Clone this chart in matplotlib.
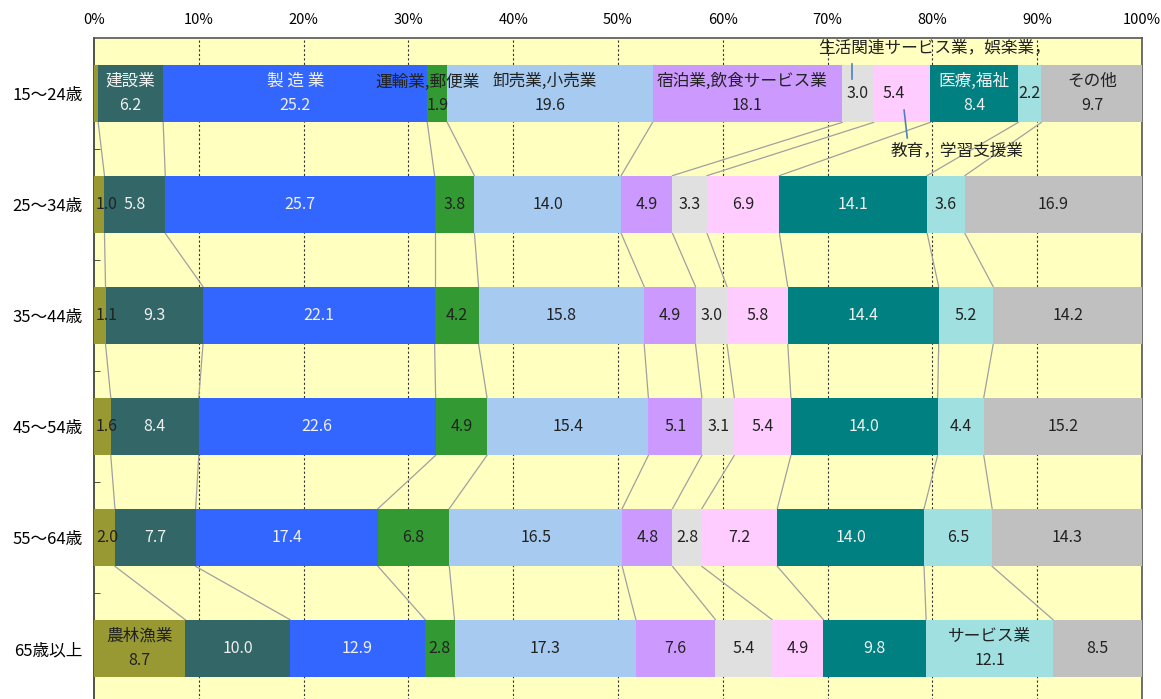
import matplotlib.pyplot as plt
import numpy as np

plt.rcParams['font.family'] = ['Noto Sans CJK JP', 'DejaVu Sans']

ages = ['15～24歳', '25～34歳', '35～44歳', '45～54歳', '55～64歳', '65歳以上']
industries = ['農林漁業', '建設業', '製造業', '運輸業,郵便業', '卸売業,小売業',
              '宿泊業,飲食サービス業', '生活関連サービス業，娯楽業，', '教育，学習支援業',
              '医療,福祉', 'サービス業', 'その他']
colors = ['#999933', '#336666', '#3366FF', '#339933', '#A6CAF0', '#CC99FF',
          '#E0E0E0', '#FFCCFF', '#008080', '#A0E0E0', '#C0C0C0']
light_text = [False, True, True, False, False, False, False, False, True, False, False]

# share (%) by age group, columns follow `industries`
r15 = [0.4, 6.2, 25.2, 1.9, 19.6, 18.1, 3.0, 5.4, 8.4, 2.2, 9.7]
r25 = [1.0, 5.8, 25.7, 3.8, 14.0, 4.9, 3.3, 6.9, 14.1, 3.6, 16.9]
r35 = [1.1, 9.3, 22.1, 4.2, 15.8, 4.9, 3.0, 5.8, 14.4, 5.2, 14.2]
r45 = [1.6, 8.4, 22.6, 4.9, 15.4, 5.1, 3.1, 5.4, 14.0, 4.4, 15.2]
r55 = [2.0, 7.7, 17.4, 6.8, 16.5, 4.8, 2.8, 7.2, 14.0, 6.5, 14.3]
r65 = [8.7, 10.0, 12.9, 2.8, 17.3, 7.6, 5.4, 4.9, 9.8, 12.1, 8.5]
data = np.array([r15, r25, r35, r45, r55, r65])

fig = plt.figure(figsize=(11.61, 6.99), dpi=100)
ax = fig.add_axes([94 / 1161, -5 / 699, (1142 - 94) / 1161, 666 / 699])
ax.set_facecolor('#FFFFC0')

h = 0.52
y = np.arange(len(ages))
left = np.zeros(len(ages))
edges = []
for j in range(len(industries)):
    ax.barh(y, data[:, j], left=left, height=h, color=colors[j], zorder=3)
    left = left + data[:, j]
    edges.append(left.copy())

# connecting lines between rows
for e in edges[:-1]:
    for i in range(len(ages) - 1):
        ax.plot([e[i], e[i + 1]], [y[i] + h / 2, y[i + 1] - h / 2],
                color='#A0A0A0', lw=0.9, zorder=2)

fs = 12      # names
fn = 11.5    # numbers
starts = np.hstack([np.zeros((len(ages), 1)), np.cumsum(data, axis=1)[:, :-1]])
for i in range(len(ages)):
    for j in range(len(industries)):
        v = data[i, j]
        cx = starts[i, j] + v / 2
        tc = '#F0F0F0' if light_text[j] else '#222222'
        if i == 0 and j == 0:
            continue
        if j == 0 and i < 5:
            ax.text(starts[i, j] + 0.2, y[i], f'{v:.1f}', ha='left', va='center',
                    fontsize=fn, color=tc, zorder=5)
            continue
        named = (i == 0 and j in (1, 2, 4, 5, 8, 10)) or (i == 5 and j in (0, 9))
        name = industries[j]
        if j == 2:
            name = '製 造 業'
        if named:
            nx = cx - 0.5 if (i == 0 and j in (4, 5)) else cx
            ax.text(nx, y[i] - 0.11, name, ha='center', va='center', fontsize=fs,
                    color=tc, zorder=5)
            ax.text(cx, y[i] + 0.11, f'{v:.1f}', ha='center', va='center',
                    fontsize=fn, color=tc, zorder=5)
        else:
            vy = y[i]
            if i == 0 and j == 7:
                cx -= 0.8
            if i == 0 and j == 3:
                vy = y[i] + 0.11
            ax.text(cx, vy, f'{v:.1f}', ha='center', va='center', fontsize=fn,
                    color=tc, zorder=5)

# outside labels for first row
ax.text(starts[0, 3] + data[0, 3] / 2 - 0.9, y[0] - 0.1, industries[3], ha='center',
        va='center', fontsize=fs, color='#222222', zorder=6)
x_sv = starts[0, 6] + data[0, 6] / 2 - 0.6
ax.plot([x_sv, x_sv], [-0.27, -0.135], color='#4F81BD', lw=1.2, zorder=6)
ax.text(80.2, -0.41, industries[6], ha='center', va='center', fontsize=fs,
        color='#222222', zorder=6)
ax.plot([77.3, 77.6], [0.15, 0.4], color='#4F81BD', lw=1.2, zorder=6)
ax.text(82.4, 0.52, industries[7], ha='center', va='center', fontsize=fs,
        color='#222222', zorder=6)

ax.set_xlim(0, 100)
ax.set_ylim(5.5, -0.5)
ax.set_xticks(np.arange(0, 101, 10))
ax.set_xticklabels([f'{t}%' for t in range(0, 101, 10)], fontsize=10.5)
ax.xaxis.tick_top()
ax.tick_params(axis='x', length=0, pad=8)
ax.set_yticks(y)
ax.set_yticklabels(ages, fontsize=12)
ax.tick_params(axis='y', length=0, pad=8)
ax.set_yticks(np.arange(0.5, 5, 1), minor=True)
ax.tick_params(axis='y', which='minor', direction='in', length=4, color='#333333')

for t in range(10, 100, 10):
    ax.axvline(t, color='#333333', lw=0.8, ls=(0, (2, 2)), zorder=1)

ax.spines['bottom'].set_visible(False)
ax.spines['left'].set_color('#333333')
ax.spines['top'].set_color('#555555')
ax.spines['right'].set_color('#555555')
for s in ('left', 'top', 'right'):
    ax.spines[s].set_linewidth(1.2)

fig.savefig('out.png', dpi=100)
